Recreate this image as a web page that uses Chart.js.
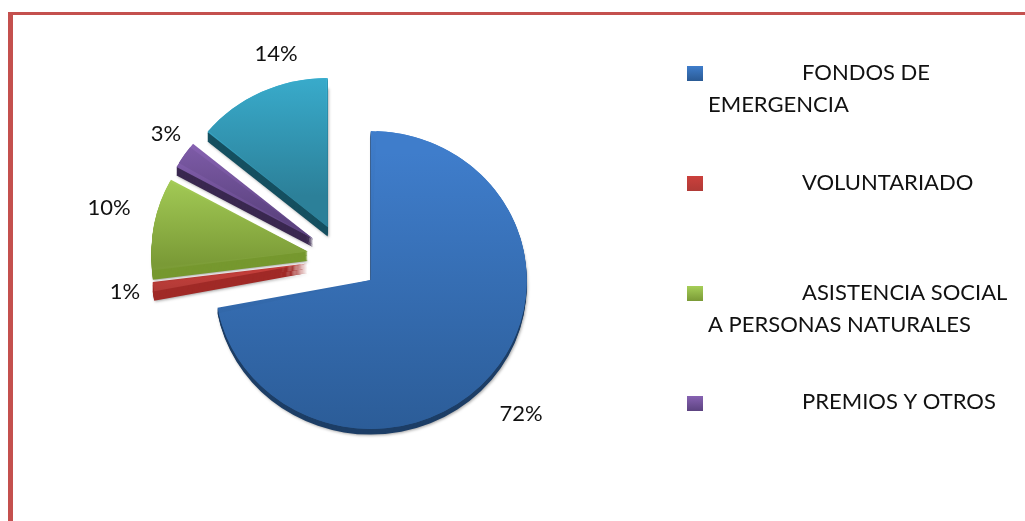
<!DOCTYPE html>
<html><head><meta charset="utf-8">
<script src="https://cdn.jsdelivr.net/npm/chart.js@4"></script>
<style>
html,body{margin:0;padding:0;background:#fff;overflow:hidden;width:1025px;height:521px}
#frame{position:absolute;left:8px;top:12px;width:1100px;height:600px;border-left:5px solid #C4504E;border-top:3px solid #C4504E}
#wrap{position:absolute;left:0;top:0;width:1025px;height:521px}
</style></head><body>
<div id="frame"></div>
<div id="wrap"><canvas id="c" width="1025" height="521"></canvas></div>
<script>
const categories = ['FONDOS DE EMERGENCIA','VOLUNTARIADO','ASISTENCIA SOCIAL A PERSONAS NATURALES','PREMIOS Y OTROS','OTROS'];
const values = [72,1,10,3,14];
const percentLabels = ['72%','1%','10%','3%','14%'];
const topColors = ['#3F7DCB','#CB403C','#A6CE58','#8762B2','#3CB6D8'];
const bottomColors = ['#2A5A94','#B03A36','#7A9A36','#5C4380','#2C8099'];
const wallColors = ['#1D3E66','#A02A27','#76982F','#3A2850','#154F60'];
const wallDepths = [6,10,10,9,10];
const labelOffsets = [[178,156],[-218,34],[-234,-50],[-177,-124],[-67,-204]];
const legendLines = [
  {marker:0,y:81,text:[['FONDOS DE',802,80],['EMERGENCIA',708,112]]},
  {marker:1,y:191,text:[['VOLUNTARIADO',802,190]]},
  {marker:2,y:301,text:[['ASISTENCIA SOCIAL',802,300],['A PERSONAS NATURALES',708,332]]},
  {marker:3,y:411,text:[['PREMIOS Y OTROS',802,409]]}
];
const CX=343, CY=258, R=156, EXPLODE=36, SQUASH=0.955;
const FONT='22px Lato, Carlito, sans-serif';
const total=values.reduce((a,b)=>a+b,0);

function sliceGradient(ctx,i){
  let a=-Math.PI/2; for(let k=0;k<i;k++) a+=values[k]/total*2*Math.PI;
  const s=values[i]/total*2*Math.PI, mid=a+s/2;
  const ay=CY+Math.sin(mid)*EXPLODE;
  let top=ay,bot=ay;
  for(let t=0;t<=40;t++){const y=ay+Math.sin(a+s*t/40)*R; top=Math.min(top,y); bot=Math.max(bot,y);}
  const g=ctx.createLinearGradient(0,top,0,bot);
  g.addColorStop(0,topColors[i]); g.addColorStop(1,bottomColors[i]);
  return g;
}
function wedge(ctx,el,ox,oy){
  ctx.beginPath(); ctx.moveTo(ox,oy); ctx.arc(ox,oy,R,el.startAngle,el.endAngle); ctx.closePath(); ctx.fill();
}
const extrude={
  id:'extrude',
  beforeDatasetsDraw(chart){
    const ctx=chart.ctx, arcs=chart.getDatasetMeta(0).data;
    ctx.save();
    ctx.translate(0,CY); ctx.scale(1,SQUASH); ctx.translate(0,-CY);
    arcs.forEach((el,i)=>{
      const sweep=el.endAngle-el.startAngle;
      // Arc.draw grows the radius by offset*(1-sin(sweep)); compensate so all slices end at R
      el.outerRadius=R-EXPLODE*(1-Math.sin(Math.min(Math.PI,sweep)));
      const mid=(el.startAngle+el.endAngle)/2;
      const ox=el.x+Math.cos(mid)*EXPLODE, oy=el.y+Math.sin(mid)*EXPLODE;
      ctx.save();
      ctx.shadowColor='rgba(0,0,0,0.35)'; ctx.shadowBlur=3; ctx.shadowOffsetX=1; ctx.shadowOffsetY=1;
      ctx.fillStyle=wallColors[i];
      wedge(ctx,el,ox,oy+wallDepths[i]);
      ctx.shadowColor='transparent';
      for(let d=wallDepths[i]-1;d>=1;d--) wedge(ctx,el,ox,oy+d);
      ctx.fillStyle=el.options.backgroundColor;
      wedge(ctx,el,ox,oy);
      ctx.restore();
    });
  },
  afterDatasetsDraw(chart){ chart.ctx.restore(); }
};
const texts={
  id:'texts',
  afterDatasetsDraw(chart){
    const ctx=chart.ctx, arcs=chart.getDatasetMeta(0).data;
    ctx.save();
    ctx.font=FONT; ctx.fillStyle='#111'; ctx.textBaseline='middle'; ctx.textAlign='center';
    arcs.forEach((el,i)=>{
      ctx.fillText(percentLabels[i],el.x+labelOffsets[i][0],el.y+labelOffsets[i][1]);
    });
    ctx.textAlign='left'; ctx.textBaseline='alphabetic';
    legendLines.forEach(l=>{
      const g=ctx.createLinearGradient(0,l.y-15,0,l.y);
      g.addColorStop(0,topColors[l.marker]); g.addColorStop(1,bottomColors[l.marker]);
      ctx.fillStyle=g; ctx.fillRect(687,l.y-15,16,15);
      ctx.fillStyle='#111';
      l.text.forEach(t=>ctx.fillText(t[0],t[1],t[2]));
    });
    ctx.restore();
  }
};
new Chart(document.getElementById('c'),{
  type:'pie',
  data:{labels:categories,datasets:[{
    data:values,
    backgroundColor:c=>sliceGradient(c.chart.ctx,c.dataIndex),
    borderWidth:0,
    offset:EXPLODE*4,
    radius:R-EXPLODE
  }]},
  options:{
    responsive:false,animation:false,
    layout:{padding:{left:0,top:0,right:1025-2*CX,bottom:521-2*CY}},
    plugins:{legend:{display:false},tooltip:{enabled:false},title:{display:false}}
  },
  plugins:[extrude,texts]
});
</script>
</body></html>
